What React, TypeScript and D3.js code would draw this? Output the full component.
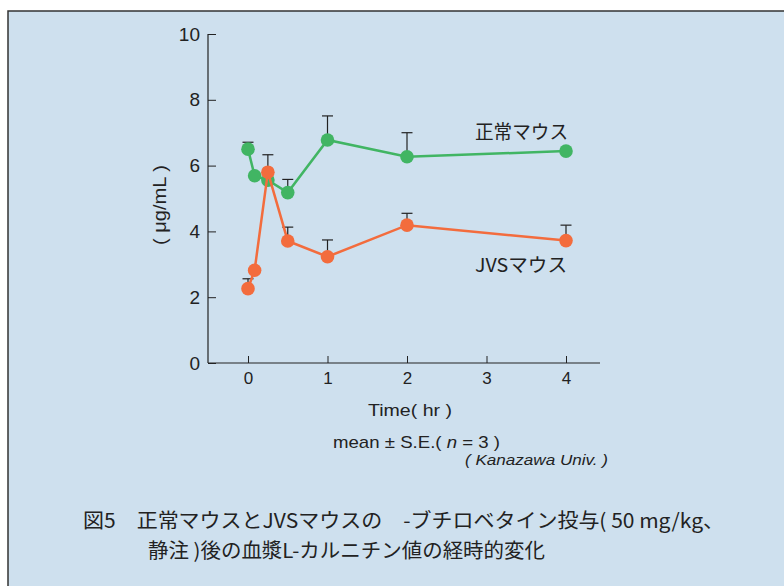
import React, { useEffect, useRef } from 'react';
import * as d3 from 'd3';

// time points (hr)
const times = [0, 1 / 12, 0.25, 0.5, 1, 2, 4];
// 正常マウス
const normalMean = [6.5, 5.69, 5.56, 5.18, 6.78, 6.27, 6.44];
const normalUpper = [6.71, null, null, 5.58, 7.51, 7.0, null];
// JVSマウス
const jvsMean = [2.26, 2.82, 5.8, 3.71, 3.23, 4.19, 3.72];
const jvsUpper = [2.56, null, 6.33, 4.13, 3.74, 4.55, 4.19];

const xTicks = [0, 1, 2, 3, 4];
const yTicks = [0, 2, 4, 6, 8, 10];

const GREEN = '#41b563';
const ORANGE = '#f36c3d';
const INK = '#222';
const JP = '"Noto Sans CJK JP", "Liberation Sans", sans-serif';
const LAT = '"Liberation Sans", Arial, sans-serif';

const App = () => {
  const ref = useRef<SVGSVGElement>(null);

  useEffect(() => {
    const svg = d3.select(ref.current);
    svg.selectAll('*').remove();

    // background panel
    svg.append('rect')
      .attr('x', 8).attr('y', 11)
      .attr('width', 800).attr('height', 600)
      .attr('fill', '#cee0ee')
      .attr('stroke', '#333').attr('stroke-width', 1.5);

    const x = d3.scaleLinear().domain([0, 4]).range([248, 566]);
    const y = d3.scaleLinear().domain([0, 10]).range([363, 34]);

    // axes (ticks point inward)
    const yAxis = svg.append('g')
      .attr('transform', 'translate(208,0)')
      .call(d3.axisLeft(y).tickValues(yTicks).tickSize(-8).tickPadding(8));
    yAxis.select('.domain').remove();
    yAxis.selectAll('line').attr('stroke', INK);
    yAxis.selectAll('text')
      .style('font-family', LAT).style('font-size', '19px').attr('fill', INK);

    const xAxis = svg.append('g')
      .attr('transform', 'translate(0,363)')
      .call(d3.axisBottom(x).tickValues(xTicks).tickFormat(d3.format('d')).tickSize(-7).tickPadding(9));
    xAxis.select('.domain').remove();
    xAxis.selectAll('line').attr('stroke', INK);
    xAxis.selectAll('text')
      .style('font-family', LAT).style('font-size', '17px').attr('fill', INK);

    svg.append('line')
      .attr('x1', 208).attr('x2', 208).attr('y1', 34).attr('y2', 363)
      .attr('stroke', INK).attr('stroke-width', 1.2);
    svg.append('line')
      .attr('x1', 208).attr('x2', 600).attr('y1', 363).attr('y2', 363)
      .attr('stroke', INK).attr('stroke-width', 1.2);

    const series = [
      { mean: normalMean, upper: normalUpper, color: GREEN },
      { mean: jvsMean, upper: jvsUpper, color: ORANGE },
    ];

    // error bars (upper only)
    series.forEach(s => {
      const g = svg.append('g');
      times.forEach((t, i) => {
        const u = s.upper[i];
        if (u == null) return;
        g.append('line')
          .attr('x1', x(t)).attr('x2', x(t))
          .attr('y1', y(s.mean[i])).attr('y2', y(u))
          .attr('stroke', INK).attr('stroke-width', 1.2);
        g.append('line')
          .attr('x1', x(t) - 5.5).attr('x2', x(t) + 5.5)
          .attr('y1', y(u)).attr('y2', y(u))
          .attr('stroke', INK).attr('stroke-width', 1.2);
      });
    });

    const line = d3.line<number>()
      .x((d, i) => x(times[i]))
      .y(d => y(d));

    series.forEach(s => {
      svg.append('path')
        .attr('d', line(s.mean))
        .attr('fill', 'none')
        .attr('stroke', s.color)
        .attr('stroke-width', 2.5);
      svg.append('g').selectAll('circle')
        .data(s.mean)
        .enter()
        .append('circle')
        .attr('cx', (d, i) => x(times[i]))
        .attr('cy', d => y(d))
        .attr('r', 6.8)
        .attr('fill', s.color);
    });

    // series labels
    svg.append('text')
      .attr('x', 475).attr('y', 139)
      .style('font-family', JP).style('font-size', '19px').attr('fill', INK)
      .attr('textLength', 93).attr('lengthAdjust', 'spacingAndGlyphs')
      .text('正常マウス');
    svg.append('text')
      .attr('x', 475).attr('y', 272)
      .style('font-family', JP).style('font-size', '19px').attr('fill', INK)
      .attr('textLength', 92).attr('lengthAdjust', 'spacingAndGlyphs')
      .text('JVSマウス');

    // y label
    svg.append('text')
      .attr('transform', 'translate(166,205) rotate(-90)')
      .attr('text-anchor', 'middle')
      .style('font-family', LAT).style('font-size', '18px').attr('fill', INK)
      .attr('textLength', 80).attr('lengthAdjust', 'spacingAndGlyphs')
      .text('( μg/mL )');

    // x label and notes
    svg.append('text')
      .attr('x', 410).attr('y', 416)
      .attr('text-anchor', 'middle')
      .style('font-family', LAT).style('font-size', '17px').attr('fill', INK)
      .attr('textLength', 84).attr('lengthAdjust', 'spacingAndGlyphs')
      .text('Time( hr )');
    const mean = svg.append('text')
      .attr('x', 333).attr('y', 448)
      .style('font-family', LAT).style('font-size', '17px').attr('fill', INK)
      .attr('textLength', 167).attr('lengthAdjust', 'spacingAndGlyphs');
    mean.append('tspan').text('mean ± S.E.( ');
    mean.append('tspan').style('font-style', 'italic').text('n');
    mean.append('tspan').text(' = 3 )');
    svg.append('text')
      .attr('x', 465).attr('y', 465)
      .style('font-family', LAT).style('font-size', '14px').style('font-style', 'italic')
      .attr('fill', INK)
      .attr('textLength', 143).attr('lengthAdjust', 'spacingAndGlyphs')
      .text('( Kanazawa Univ. )');

    // caption
    svg.append('text')
      .attr('x', 83).attr('y', 528)
      .style('font-family', JP).style('font-size', '20px').attr('fill', INK)
      .attr('textLength', 641).attr('lengthAdjust', 'spacingAndGlyphs')
      .text('図5　正常マウスとJVSマウスの　-ブチロベタイン投与( 50 mg/kg、');
    svg.append('text')
      .attr('x', 148).attr('y', 558)
      .style('font-family', JP).style('font-size', '20px').attr('fill', INK)
      .attr('textLength', 397).attr('lengthAdjust', 'spacingAndGlyphs')
      .text('静注 )後の血漿L-カルニチン値の経時的変化');
  }, []);

  return (
    <svg
      ref={ref}
      width={784}
      height={586}
      style={{ position: 'absolute', left: 0, top: 0, background: '#fff' }}
    />
  );
};

export default App;
